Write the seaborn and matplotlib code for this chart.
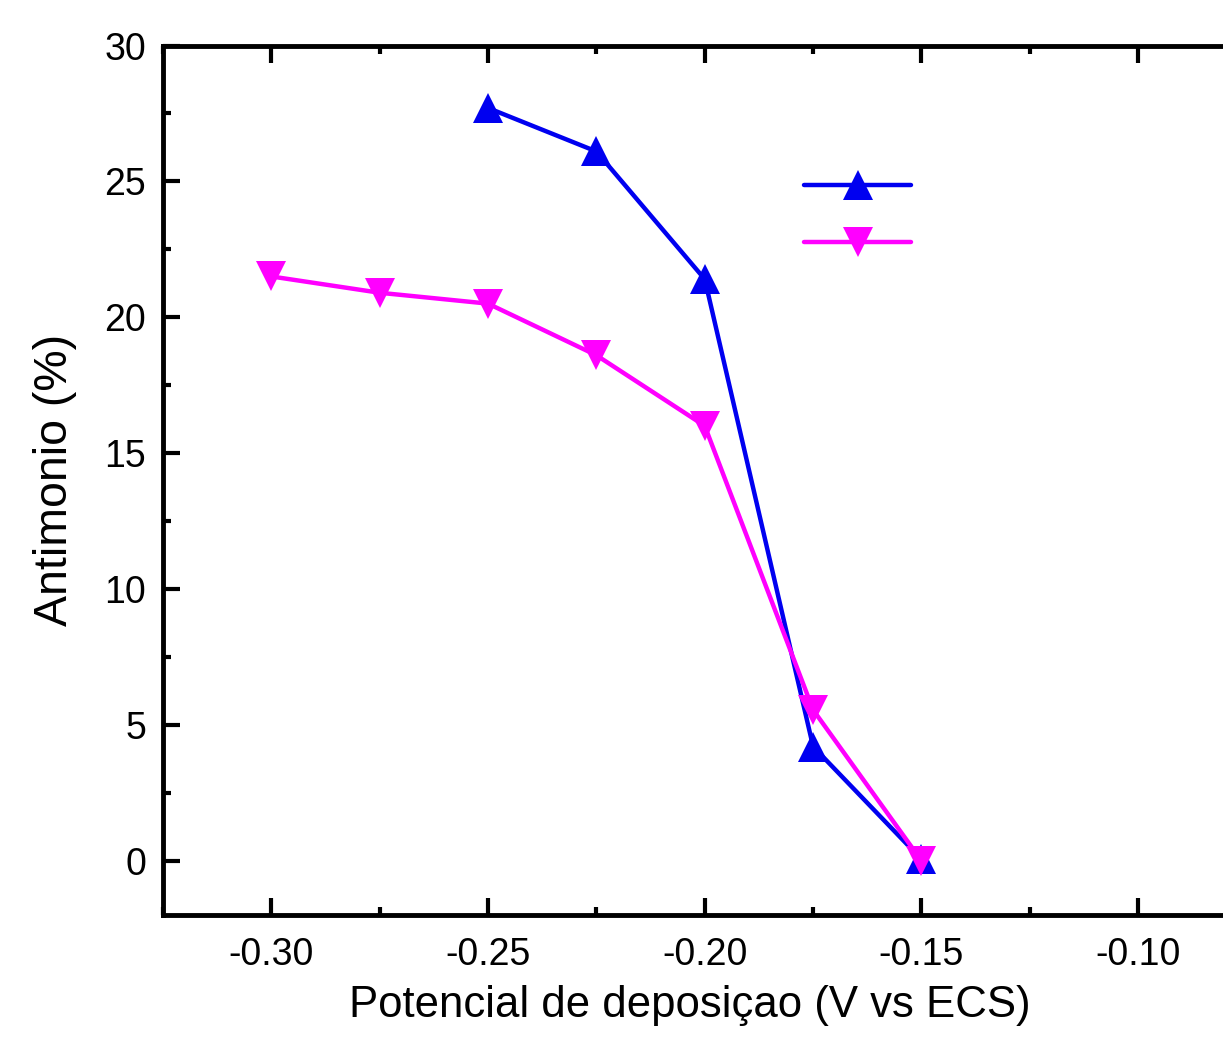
import matplotlib
matplotlib.use("Agg")
import matplotlib.pyplot as plt
from matplotlib.lines import Line2D
from matplotlib.ticker import MultipleLocator, FormatStrFormatter
import seaborn as sns
import pandas as pd

# Data
x_blue = [-0.25, -0.225, -0.20, -0.175, -0.15]
y_blue = [27.7, 26.1, 21.4, 4.2, 0.05]
x_mag = [-0.30, -0.275, -0.25, -0.225, -0.20, -0.175, -0.15]
y_mag = [21.5, 20.9, 20.5, 18.6, 16.0, 5.55, 0.0]
x_ticks = [-0.30, -0.25, -0.20, -0.15, -0.10]
y_ticks = [0, 5, 10, 15, 20, 25, 30]
xlabel = "Potencial de deposiçao (V vs ECS)"
ylabel = "Antimonio (%)"

BLUE = "#0000F0"
MAG = "#FF00FF"

sns.set_theme(style="ticks")
plt.rcParams['font.family'] = ['Liberation Sans', 'DejaVu Sans']
plt.rcParams['text.color'] = 'black'
plt.rcParams['axes.labelcolor'] = 'black'
plt.rcParams['xtick.labelcolor'] = 'black'
plt.rcParams['ytick.labelcolor'] = 'black'

fig = plt.figure(figsize=(12.23, 10.43), dpi=100)
px_per_unit = 4340.0
x_left_px = 163
x_right_px = 1138 + 0.025 * px_per_unit
L, R = x_left_px / 1223, x_right_px / 1223
B, T = 1 - 915 / 1043, 1 - 45.5 / 1043
ax = fig.add_axes([L, B, R - L, T - B])

df_b = pd.DataFrame({"x": x_blue, "y": y_blue})
df_m = pd.DataFrame({"x": x_mag, "y": y_mag})

LW = 3.2
sns.lineplot(data=df_b, x="x", y="y", ax=ax, color=BLUE, marker="^",
             markersize=22, markeredgewidth=0, linewidth=LW, sort=False)
sns.lineplot(data=df_m, x="x", y="y", ax=ax, color=MAG, marker="v",
             markersize=22, markeredgewidth=0, linewidth=LW, sort=False)

ax.set_xlim(-0.325, -0.075)
ax.set_ylim(-2, 30)
ax.set_xticks(x_ticks)
ax.set_yticks(y_ticks)
ax.xaxis.set_major_formatter(FormatStrFormatter('%.2f'))
ax.xaxis.set_minor_locator(MultipleLocator(0.025))
ax.yaxis.set_minor_locator(MultipleLocator(2.5))

for s in ax.spines.values():
    s.set_linewidth(3.5)
    s.set_color("black")
    s.set_visible(True)

ax.tick_params(which="major", direction="in", length=12, width=3,
               top=True, right=True, labelsize=27, color="black")
ax.tick_params(which="minor", direction="in", length=6, width=3,
               top=True, right=True, color="black")
ax.tick_params(axis="x", which="major", pad=16)
ax.tick_params(axis="y", which="major", pad=12)

ax.set_xlabel(xlabel, fontsize=31.5, labelpad=8)
ax.set_ylabel(ylabel, fontsize=33.5, labelpad=20)
ax.xaxis.set_label_coords((690 - x_left_px) / (x_right_px - x_left_px), -0.081)

handles = [
    Line2D([], [], color=BLUE, marker="^", markersize=22, markeredgewidth=0, linewidth=LW),
    Line2D([], [], color=MAG, marker="v", markersize=22, markeredgewidth=0, linewidth=LW),
]
lx = (857.5 - x_left_px) / (x_right_px - x_left_px)
ly = (915 - 216) / (915 - 45.5)
ax.legend(handles, ["", ""], loc="center", bbox_to_anchor=(lx, ly),
          frameon=False, fontsize=25, handlelength=3.1, handletextpad=0,
          borderpad=0, borderaxespad=0, labelspacing=0.68)

fig.savefig("out.png", dpi=100)
